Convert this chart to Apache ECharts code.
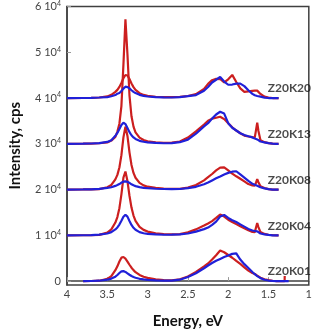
<!DOCTYPE html>
<html><head><meta charset="utf-8">
<script src="https://cdn.jsdelivr.net/npm/echarts@6/dist/echarts.min.js"></script>
<style>html,body{margin:0;padding:0;background:#fff}#c{width:315px;height:334px}</style>
</head><body><div id="c"></div>
<script>
// Energy grid (eV)
const energy = [4.0,3.8,3.7,3.6,3.5,3.45,3.4,3.375,3.35,3.325,3.3,3.275,3.25,3.225,3.2,3.175,3.15,3.1,3.05,3.0,2.9,2.8,2.7,2.6,2.5,2.4,2.3,2.25,2.2,2.15,2.1,2.05,2.0,1.95,1.9,1.85,1.8,1.75,1.7,1.67,1.655,1.64,1.625,1.6,1.55,1.5,1.45,1.4,1.375,1.3,1.299,1.25];
const samples = ['Z20K20','Z20K13','Z20K08','Z20K04','Z20K01'];
const baselines = [40000,30000,20000,10000,0];
// intensity above each baseline (cps)
const k20Red = [0,10,50,120,350,700,1340,1780,2430,3310,4320,5030,4930,4140,3190,2380,1780,1060,680,470,280,180,200,250,450,850,2000,3100,3900,4200,4150,3400,4100,5050,3500,2100,1350,1450,1550,1600,1650,1620,1300,900,300,100,0,0,0,null,null,null];
const k20Blue = [0,10,50,120,200,380,650,950,1100,1500,2050,2480,2400,2100,1700,1350,1080,700,480,340,200,130,120,200,400,650,1600,2400,3400,4000,4600,3600,2900,2950,3150,3150,2600,1700,900,600,500,450,400,300,100,0,0,0,0,null,null,null];
const k13Red = [0,20,50,120,300,700,1500,2670,4400,8250,17300,27200,19570,10600,6000,3750,2500,1360,830,560,300,200,250,500,1350,2700,4200,5050,5500,5700,5920,5400,4500,3600,2900,2300,1800,1600,1450,1400,3000,4640,2800,800,350,150,50,0,0,null,null,null];
const k13Blue = [0,20,60,150,400,800,1740,2370,3210,4120,4620,4300,3440,2550,1870,1390,1060,650,440,320,180,120,150,350,900,2200,3800,4500,5500,6400,7000,6600,4500,3500,2900,2300,1900,1650,1400,1150,1050,950,700,500,300,150,50,0,0,null,null,null];
const k08Red = [0,20,50,100,500,1000,2230,3200,4810,7520,11400,13760,11720,8130,5370,3640,2580,1450,920,630,350,220,150,150,450,1000,2000,2700,3400,4200,4800,4850,4200,3500,2900,2350,1800,1200,900,850,1500,2280,1600,700,350,100,0,0,0,null,null,null];
const k08Blue = [0,20,60,150,350,500,800,980,1200,1500,1750,1800,1700,1450,1150,920,750,520,380,300,180,120,80,120,300,600,1150,1550,2000,2450,2850,3300,3650,3900,4000,3300,2600,1900,1250,1050,950,850,700,500,250,80,0,0,0,null,null,null];
const k04Red = [0,20,50,100,600,1300,2800,4000,5930,8960,12600,13950,11850,8650,6060,4310,3150,1840,1190,820,450,280,200,250,650,1300,2150,2600,3100,3800,4550,4100,3400,2900,2450,2000,1550,1100,750,700,1700,2700,1800,700,300,120,30,0,0,null,null,null];
const k04Blue = [0,20,60,150,400,700,1290,1730,2350,3180,4060,4490,4080,3140,2280,1640,1200,700,460,330,190,120,150,200,400,800,1350,1700,2300,3000,4100,4450,3800,3300,2900,2400,1900,1400,1050,950,900,850,700,400,200,80,0,0,0,null,null,null];
const k01Red = [null,0,20,80,500,1100,2380,3230,4270,5120,5260,4900,4270,3570,2920,2390,1950,1340,960,710,400,200,150,400,1000,2000,3200,3850,4700,5650,6690,6300,5700,5100,4400,3750,3000,2300,1750,1550,1450,1200,1000,750,400,200,80,0,0,0,1100,null];
const k01Blue = [null,0,20,80,300,550,970,1330,1760,2130,2190,2000,1690,1380,1100,900,740,500,360,270,150,80,100,300,900,1700,2800,3400,3950,4450,4850,5250,5600,5950,6050,4700,3700,2850,2000,1500,1280,1100,900,650,300,120,30,0,0,0,0,0];
const redSets = [k20Red,k13Red,k08Red,k04Red,k01Red];
const blueSets = [k20Blue,k13Blue,k08Blue,k04Blue,k01Blue];
const yTicks = [0,10000,20000,30000,40000,50000,60000];

const RED = '#cc1f1f', BLUE = '#2020d8', AX = '#404040';
function build(vals, base){
  const out = [];
  energy.forEach((e,j)=>{ if (vals[j] !== null) out.push([e, base + vals[j]]); });
  return out;
}
const series = [];
samples.forEach((s,i)=>{
  series.push({type:'line', name:s+' red', data:build(redSets[i], baselines[i]), showSymbol:false,
    lineStyle:{color:RED,width:2.2}, itemStyle:{color:RED}, z:2, silent:true});
  series.push({type:'line', name:s+' blue', data:build(blueSets[i], baselines[i]), showSymbol:false,
    lineStyle:{color:BLUE,width:2.2}, itemStyle:{color:BLUE}, z:3, silent:true});
});
series.push({type:'scatter', symbolSize:0, silent:true, z:5,
  data: samples.map((s,i)=>({value:[1.51, baselines[i]+2100], name:s})),
  label:{show:true, position:'right', distance:0, formatter:p=>p.name,
    fontFamily:'Lato', fontWeight:'bold', fontSize:12, color:'#1a1a1a'}});

const chart = echarts.init(document.getElementById('c'), null, {renderer:'canvas'});
chart.setOption({
  animation:false,
  grid:{left:55, right:4, top:6, bottom:43, show:true, borderColor:AX, borderWidth:1.5, backgroundColor:'transparent'},
  xAxis:{type:'value', inverse:true, min:1, max:4, interval:0.5,
    name:'Energy, eV', nameLocation:'middle', nameGap:29,
    nameTextStyle:{fontFamily:'Lato', fontWeight:'bold', fontSize:15, color:'#111'},
    axisLine:{show:true, lineStyle:{color:AX, width:1.5}},
    axisTick:{show:true, inside:true, length:4, lineStyle:{color:'#999'}},
    axisLabel:{margin:4, fontFamily:'Lato', fontSize:11, color:'#444', formatter:v=>String(v)},
    splitLine:{show:false}},
  yAxis:{type:'value', min:-855, max:60000,
    name:'Intensity, cps', nameLocation:'middle', nameGap:44, nameRotate:90,
    nameTextStyle:{fontFamily:'Lato', fontWeight:'bold', fontSize:15, color:'#111'},
    axisLine:{show:true, lineStyle:{color:AX, width:1.5}},
    axisTick:{show:true, inside:true, length:4, customValues:yTicks, lineStyle:{color:'#999'}},
    axisLabel:{margin:6, customValues:yTicks, fontFamily:'Lato', fontSize:11, color:'#444',
      formatter:v=> v===0 ? '0' : '{n|'+(v/10000)+' 10}{s|4}',
      rich:{n:{fontFamily:'Lato', fontSize:11, color:'#444'},
            s:{fontFamily:'Lato', fontSize:7, color:'#444', verticalAlign:'top', padding:[0,0,6,0]}}},
    splitLine:{show:false}},
  series
});
</script></body></html>
